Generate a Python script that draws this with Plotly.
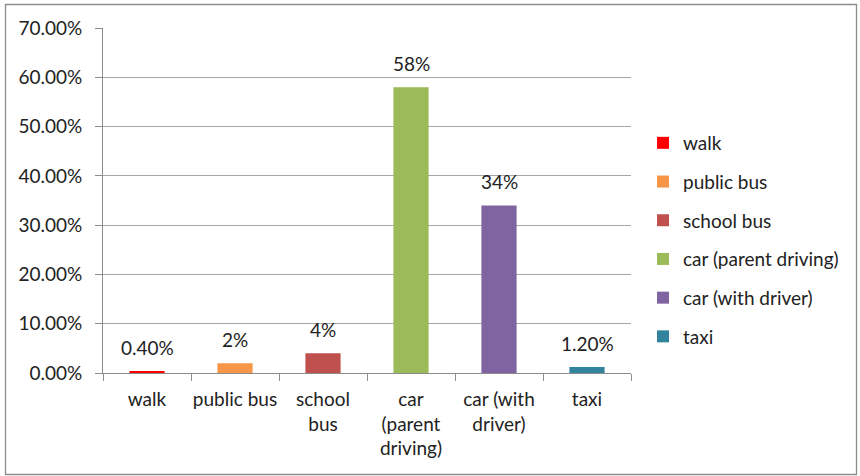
import plotly.graph_objects as go

categories = ["walk", "public bus", "school bus", "car (parent driving)", "car (with driver)", "taxi"]
tick_labels = ["walk", "public bus", "school<br>bus", "car<br>(parent<br>driving)", "car (with<br>driver)", "taxi"]
values = [0.004, 0.02, 0.04, 0.58, 0.34, 0.012]
value_labels = ["0.40%", "2%", "4%", "58%", "34%", "1.20%"]
colors = ["#FF0000", "#F79646", "#C0504D", "#9BBB59", "#8064A2", "#31849B"]

W, H = 860, 476
ML, MR, MT, MB = 103, 229, 28, 103
pw, ph = W - ML - MR, H - MT - MB

FONT = "Lato"
TXT = "#222222"

fig = go.Figure()
for i, (c, v, col) in enumerate(zip(categories, values, colors)):
    fig.add_trace(go.Bar(
        x=[c], y=[v], name=c, marker=dict(color=col, line=dict(width=0)),
        width=0.4, legendgroup=c, showlegend=True,
    ))
    fig.add_annotation(x=c, y=v, text=value_labels[i], showarrow=False,
                       yshift=24, yanchor="middle", xref="x", yref="y",
                       font=dict(family=FONT, size=19, color=TXT))

def px2x(p):
    return (p - ML) / pw

def py2y(p):
    return (H - MB - p) / ph

fig.add_shape(type="rect", xref="paper", yref="paper",
              x0=px2x(5.5), x1=px2x(856.5), y0=py2y(474.5), y1=py2y(4.5),
              line=dict(color="#8c8c8c", width=1.3), fillcolor="rgba(0,0,0,0)", layer="below")

fig.update_layout(
    width=W, height=H,
    margin=dict(l=ML, r=MR, t=MT, b=MB, pad=0, autoexpand=False),
    paper_bgcolor="white", plot_bgcolor="white",
    barmode="overlay",
    font=dict(family=FONT, size=19, color=TXT),
    legend=dict(x=px2x(643), xanchor="left", y=py2y(240), yanchor="middle",
                font=dict(family=FONT, size=19, color=TXT),
                tracegroupgap=11, itemwidth=30, bgcolor="rgba(0,0,0,0)"),
    xaxis=dict(type="category", categoryorder="array", categoryarray=categories,
               tickvals=categories, ticktext=tick_labels, tickson="boundaries",
               ticks="outside", ticklen=7, tickcolor="#8c8c8c",
               showline=True, linecolor="#8c8c8c", linewidth=1,
               showgrid=False, tickfont=dict(family=FONT, size=19, color=TXT),
               tickangle=0, automargin=False,
               ticklabelstandoff=9, range=[-0.5, 5.5]),
    yaxis=dict(range=[0, 0.7], dtick=0.1, tickformat=".2%",
               ticks="outside", ticklen=7, tickcolor="#8c8c8c",
               showline=True, linecolor="#8c8c8c", linewidth=1,
               showgrid=True, gridcolor="#a6a6a6", gridwidth=1,
               zeroline=False, ticklabelstandoff=9, automargin=False,
               tickfont=dict(family=FONT, size=19, color=TXT)),
)

fig.write_html("out.html")
